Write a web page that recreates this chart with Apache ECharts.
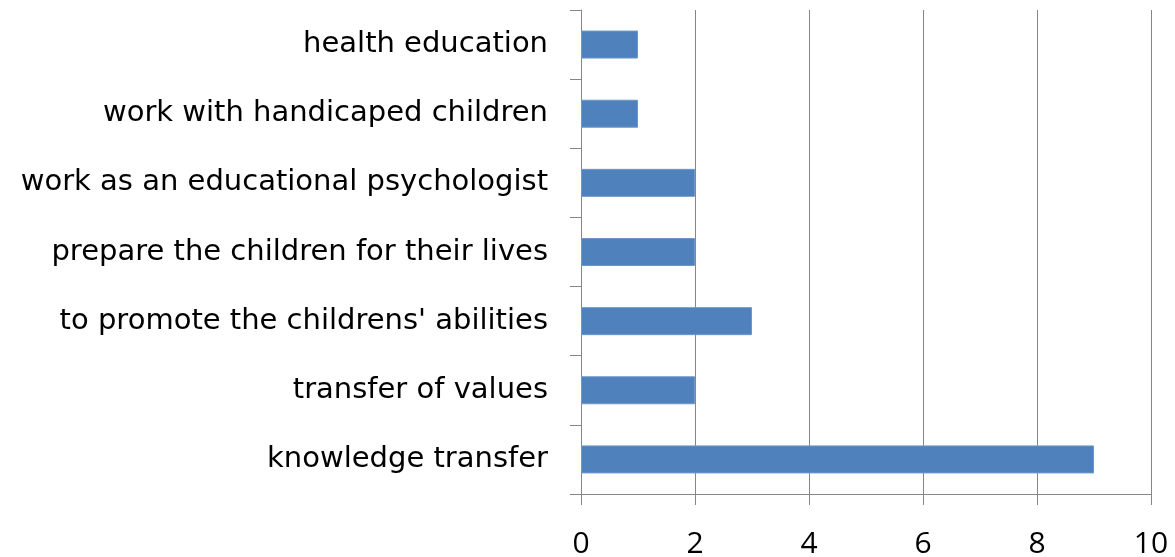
<!DOCTYPE html>
<html>
<head>
<meta charset="utf-8">
<script src="https://cdn.jsdelivr.net/npm/echarts@6/dist/echarts.min.js"></script>
<style>
  html, body { margin: 0; padding: 0; background: #fff; }
  #main { width: 1175px; height: 557px; }
</style>
</head>
<body>
<div id="main"></div>
<script>
// categories bottom to top, as the value axis draws them
var categories = [
  'knowledge transfer',
  'transfer of values',
  "to promote the childrens' abilities",
  'prepare the children for their lives',
  'work as an educational psychologist',
  'work with handicaped children',
  'health education'
];
var values = [9, 2, 3, 2, 2, 1, 1];
var xTicks = [0, 2, 4, 6, 8, 10];

var chart = echarts.init(document.getElementById('main'));
var gray = '#868686';

chart.setOption({
  animation: false,
  grid: { left: 581, right: 24, top: 10, bottom: 63, outerBoundsMode: 'none' },
  xAxis: {
    type: 'value',
    min: xTicks[0],
    max: xTicks[xTicks.length - 1],
    interval: 2,
    axisLine: { show: true, lineStyle: { color: gray, width: 1 } },
    axisTick: { show: true, length: 11, lineStyle: { color: gray } },
    splitLine: { show: true, lineStyle: { color: gray, width: 1 } },
    axisLabel: {
      margin: 35,
      color: '#000',
      fontFamily: 'Open Sans',
      fontSize: 30
    }
  },
  yAxis: {
    type: 'category',
    data: categories,
    axisLine: { show: true, lineStyle: { color: gray, width: 1 } },
    axisTick: { show: true, length: 11, lineStyle: { color: gray } },
    axisLabel: {
      margin: 33,
      color: '#000',
      fontFamily: 'DejaVu Sans',
      fontSize: 29
    }
  },
  series: [{
    type: 'bar',
    data: values,
    barWidth: 28,
    itemStyle: { color: '#4F81BD', borderColor: '#6d98cb', borderWidth: 1 }
  }]
});
</script>
</body>
</html>
